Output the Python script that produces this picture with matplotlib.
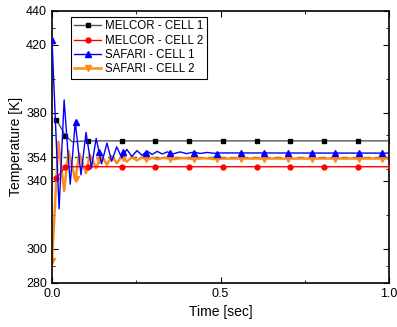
import matplotlib
matplotlib.use("Agg")
import matplotlib.pyplot as plt
from matplotlib.lines import Line2D
from matplotlib.ticker import FixedLocator

plt.rcParams["font.family"] = ["Liberation Sans", "DejaVu Sans"]

# MELCOR results
mel_t = [0.013, 0.04, 0.06, 0.107, 0.207, 0.307, 0.407, 0.507, 0.607, 0.707, 0.807, 0.907, 1.007]
mel_c1 = [376, 366.5, 363, 363.5, 363.5, 363.5, 363.5, 363.5, 363.5, 363.5, 363.5, 363.5, 363.5]
mel_c2 = [341.5, 348.3, 348.3, 348.3, 348.3, 348.3, 348.3, 348.3, 348.3, 348.3, 348.3, 348.3, 348.3]
mel_marks = [0, 1, 3, 4, 5, 6, 7, 8, 9, 10, 11, 12]

# SAFARI cell 1 - peaks and troughs
saf1_t = [0, 0.021, 0.036, 0.054, 0.069, 0.086, 0.101, 0.117, 0.131, 0.147, 0.163,
          0.177, 0.192, 0.207, 0.222, 0.237, 0.252, 0.267, 0.282, 0.297, 0.312,
          0.327, 0.342, 0.36, 0.38, 0.40, 0.42, 0.44, 0.46, 0.48, 0.50, 1.0]
saf1_T = [423, 323.5, 387.6, 338, 374.7, 343.5, 368.5, 347.5, 365, 350, 362.2,
          351.5, 360, 353.5, 358.5, 354.3, 357.8, 355, 357.5, 355.5, 357.3,
          355.8, 357, 355.9, 357, 356, 356.9, 356.1, 356.7, 356.2, 356.4, 356.3]

# SAFARI cell 2
saf2_t = [0, 0.019, 0.036, 0.049, 0.069, 0.081, 0.101, 0.112, 0.131, 0.147, 0.163,
          0.177, 0.192, 0.207, 0.222, 0.237, 0.252, 0.267, 0.282, 0.297, 0.312,
          0.33, 0.36, 0.39, 0.42, 0.45, 0.48, 0.52, 1.0]
saf2_T = [293, 363, 334, 357.5, 340.5, 356, 344.5, 355.5, 347.5, 355, 349.4,
          354.6, 350.4, 354.3, 351.3, 354, 352, 353.8, 352.4, 353.6, 352.7,
          353.5, 352.8, 353.4, 352.8, 353.3, 352.9, 353.1, 353.1]

# SAFARI markers every 0.07 s
mark_t = [0, 0.07, 0.14, 0.21, 0.28, 0.35, 0.42, 0.49, 0.56, 0.63, 0.70, 0.77, 0.84, 0.91, 0.98]
mark1 = [423, 374.5, 357, 357, 356.5, 356.5, 356.3, 355.9, 356.3, 356.3, 356.3, 356.3, 356.3, 356.3, 356.3]
mark2 = [293, 341, 352, 353.5, 353, 353, 353, 353, 353, 353, 353, 353, 353, 353, 353]

ref_T = 354
yticks = [280, 300, 340, 354, 380, 420, 440]
yminor = [290, 320, 347, 367, 400, 430]

c_or = "#ff8c1a"

fig = plt.figure(figsize=(3.97, 3.27), dpi=100)
ax = fig.add_axes([0.131, 0.135, 0.849, 0.832])

ax.axhline(ref_T, color="#1a7f1a", ls=(0, (5, 3)), lw=1, zorder=1)
ax.plot(mel_t, mel_c1, color="#555555", lw=1, marker="s", ms=3.5, mfc="k", mec="k",
        markevery=mel_marks, zorder=3)
ax.plot(mel_t, mel_c2, color="#ff0000", lw=1, marker="o", ms=3.5, markevery=mel_marks, zorder=3)
ax.plot(saf1_t, saf1_T, color="#0000ff", lw=1, zorder=4)
ax.plot(mark_t, mark1, ls="none", color="#0000ff", marker="^", ms=4, zorder=4)
ax.plot(saf2_t, saf2_T, color=c_or, lw=1.8, zorder=2)
ax.plot(mark_t, mark2, ls="none", color=c_or, marker="v", ms=4, zorder=2)

ax.set_xlim(0, 1.0)
ax.set_ylim(280, 440)
ax.set_xticks([0, 0.5, 1.0])
ax.set_xticklabels(["0.0", "0.5", "1.0"])
ax.xaxis.set_minor_locator(FixedLocator([0.25, 0.75]))
ax.set_yticks(yticks)
ax.yaxis.set_minor_locator(FixedLocator(yminor))
ax.tick_params(which="both", direction="in", top=True, right=True, labelsize=9)
ax.tick_params(which="major", length=4)
ax.tick_params(which="minor", length=2.5)
for s in ax.spines.values():
    s.set_linewidth(1.2)

ax.set_xlabel("Time [sec]", fontsize=10)
ax.set_ylabel("Temperature [K]", fontsize=10, labelpad=2)

handles = [
    Line2D([], [], color="#555555", lw=1, marker="s", ms=3.5, mfc="k", mec="k"),
    Line2D([], [], color="#ff0000", lw=1, marker="o", ms=3.5),
    Line2D([], [], color="#0000ff", lw=1, marker="^", ms=4),
    Line2D([], [], color=c_or, lw=1.8, marker="v", ms=4),
]
labels = ["MELCOR - CELL 1", "MELCOR - CELL 2", "SAFARI - CELL 1", "SAFARI - CELL 2"]
leg = ax.legend(handles, labels, loc="upper left", bbox_to_anchor=(0.056, 0.978),
                borderaxespad=0, fontsize=8.3, fancybox=False, edgecolor="k",
                framealpha=1, labelspacing=0.2, handlelength=2.35, handletextpad=0.3,
                borderpad=0.3)
leg.get_frame().set_linewidth(0.8)

fig.savefig("out.png", dpi=100)
